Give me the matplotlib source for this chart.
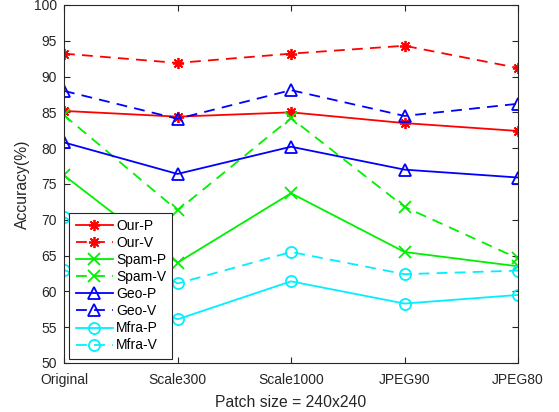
import numpy as np
import matplotlib.pyplot as plt

plt.rcParams['font.family'] = ['Liberation Sans', 'DejaVu Sans']

conds = ['Original', 'Scale300', 'Scale1000', 'JPEG90', 'JPEG80']

our_p = [85.2, 84.4, 85.0, 83.5, 82.4]
our_v = [93.2, 91.9, 93.2, 94.3, 91.2]
spam_p = [76.2, 64.0, 73.7, 65.5, 63.5]
spam_v = [84.6, 71.3, 84.2, 71.8, 64.6]
geo_p = [80.8, 76.4, 80.2, 77.0, 75.9]
geo_v = [88.0, 84.1, 88.1, 84.5, 86.2]
mfra_p = [63.0, 56.1, 61.4, 58.3, 59.5]
mfra_v = [70.4, 61.1, 65.5, 62.4, 62.9]

star = (8, 2, 0)
series = [
    ('Our-P', our_p, '#ff0000', '-', star),
    ('Our-V', our_v, '#ff0000', '--', star),
    ('Spam-P', spam_p, '#00f000', '-', 'x'),
    ('Spam-V', spam_v, '#00f000', '--', 'x'),
    ('Geo-P', geo_p, '#0000ff', '-', '^'),
    ('Geo-V', geo_v, '#0000ff', '--', '^'),
    ('Mfra-P', mfra_p, '#00f0ff', '-', 'o'),
    ('Mfra-V', mfra_v, '#00f0ff', '--', 'o'),
]

fig = plt.figure(figsize=(5.59, 4.12), dpi=100)
ax = fig.add_axes([0.1145, 0.119, 0.8122, 0.869])
x = np.arange(len(conds))
for name, vals, c, ls, m in series:
    ax.plot(x, vals, color=c, linestyle=ls, marker=m, markersize=8,
            markerfacecolor='none', markeredgewidth=1.3, linewidth=1.3,
            label=name, dashes=(6, 4) if ls == '--' else (None, None))

ax.set_xlim(0, 4)
ax.set_ylim(50, 100)
ax.set_xticks(x)
ax.set_xticklabels(conds)
ax.set_yticks(np.arange(50, 101, 5))
ax.tick_params(direction='in', length=4, labelsize=10, colors='#262626',
               top=True, right=True)
ax.tick_params(axis='x', pad=7)
ax.tick_params(axis='y', pad=5)
for s in ax.spines.values():
    s.set_color('#262626')
    s.set_linewidth(0.8)
ax.set_xlabel('Patch size = 240x240', fontsize=11.3, color='#262626', labelpad=6)
ax.set_ylabel('Accuracy(%)', fontsize=11.3, color='#262626', labelpad=3)

leg = ax.legend(loc='lower left', bbox_to_anchor=(0.012, 0.012), fontsize=10,
                fancybox=False, edgecolor='#262626', framealpha=1,
                handlelength=2.7, labelspacing=0.22, borderpad=0.45,
                handletextpad=0.2, borderaxespad=0)
leg.get_frame().set_linewidth(0.8)

fig.savefig('out.png', dpi=100)
